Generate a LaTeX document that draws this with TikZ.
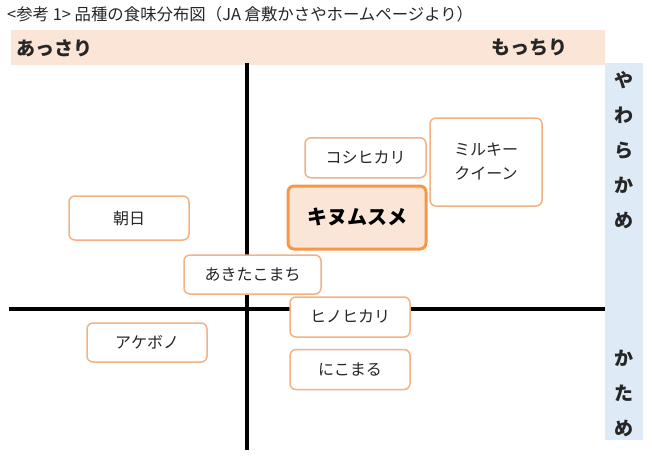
\documentclass[tikz,border=0pt]{standalone}
\usepackage{fontspec}
\setmainfont{Noto Sans CJK JP}
\usepackage{xcolor}
\usetikzlibrary{positioning}
\definecolor{peach}{HTML}{FBE5D6}
\definecolor{skyband}{HTML}{DEEBF7}
\definecolor{edgeorange}{HTML}{F4B183}
\definecolor{boldorange}{HTML}{F79646}
\definecolor{inkgray}{HTML}{262626}
\tikzset{
  axis/.style={draw=black, line width=3.8pt},
  band/.style={rectangle, fill=peach, inner sep=0pt},
  strip/.style={rectangle, fill=skyband, inner sep=0pt},
}
\begin{document}
\begin{tikzpicture}[x=1pt, y=-1pt, node distance=11pt]
  \tikzset{
      kind/.style={rectangle, rounded corners=6pt, draw=edgeorange, line width=1.5pt, fill=white, text=inkgray, inner sep=0pt, minimum width=120pt, minimum height=40pt, align=center, font=\fontsize{16}{19}\selectfont},
      pick/.style={kind, draw=boldorange, line width=3pt, fill=peach, text=black, minimum width=138pt, minimum height=63pt, font=\fontsize{20}{24}\selectfont\bfseries},
      sidetext/.style={text=inkgray, inner sep=0pt, font=\fontsize{19}{35}\selectfont\bfseries, align=center},
  }
  \useasboundingbox (0,0) rectangle (652,460);

  % title and the two bands
  \node[anchor=west, inner sep=0pt, text=inkgray, font=\fontsize{16.4}{19}\selectfont] (title) at (7,14) {<参考 1> 品種の食味分布図（JA 倉敷かさやホームページより）};
  \node[band, anchor=north west, minimum width=594pt, minimum height=35pt] (top) at (11,30) {};
  \node[sidetext, anchor=west] (light) at (16,48) {あっさり};
  \node[sidetext, anchor=east] (sticky) at (568,48) {もっちり};
  \node[strip, anchor=north west, minimum width=38pt, minimum height=377pt] (side) at (605,63) {};
  \node[sidetext] (soft) at (624,150) {や\\わ\\ら\\か\\め};
  \node[sidetext] (hard) at (624,393) {か\\た\\め};

  % axes
  \coordinate (vtop) at (247,63);
  \coordinate (vbot) at (247,450);
  \coordinate (hleft) at (9,309);
  \coordinate (hright) at (605,309);
  \path[axis] (vtop) -- (vbot);
  \path[axis] (hleft) -- (hright);

  % varieties
  \node[kind, minimum height=44pt] (asahi) at (129,218) {朝日};
  \node[kind, minimum width=137pt, minimum height=39pt] (akita) at (252.5,274.5) {あきたこまち};
  \node[kind, minimum height=39pt] (akebono) at (147,342.5) {アケボノ};
  \node[kind] (hino) at (350,317) {ヒノヒカリ};
  \node[kind, below=11pt of hino] (niko) {にこまる};
  \node[pick] (kinu) at (357,217.5) {キヌムスメ};
  \node[kind, minimum width=121pt, above=6pt of kinu.north, xshift=8.5pt] (koshi) {コシヒカリ};
  \node[kind, minimum width=112pt, minimum height=88pt, font=\fontsize{16}{24}\selectfont] (milky) at (486,162) {ミルキー\\クイーン};
\end{tikzpicture}
\end{document}
